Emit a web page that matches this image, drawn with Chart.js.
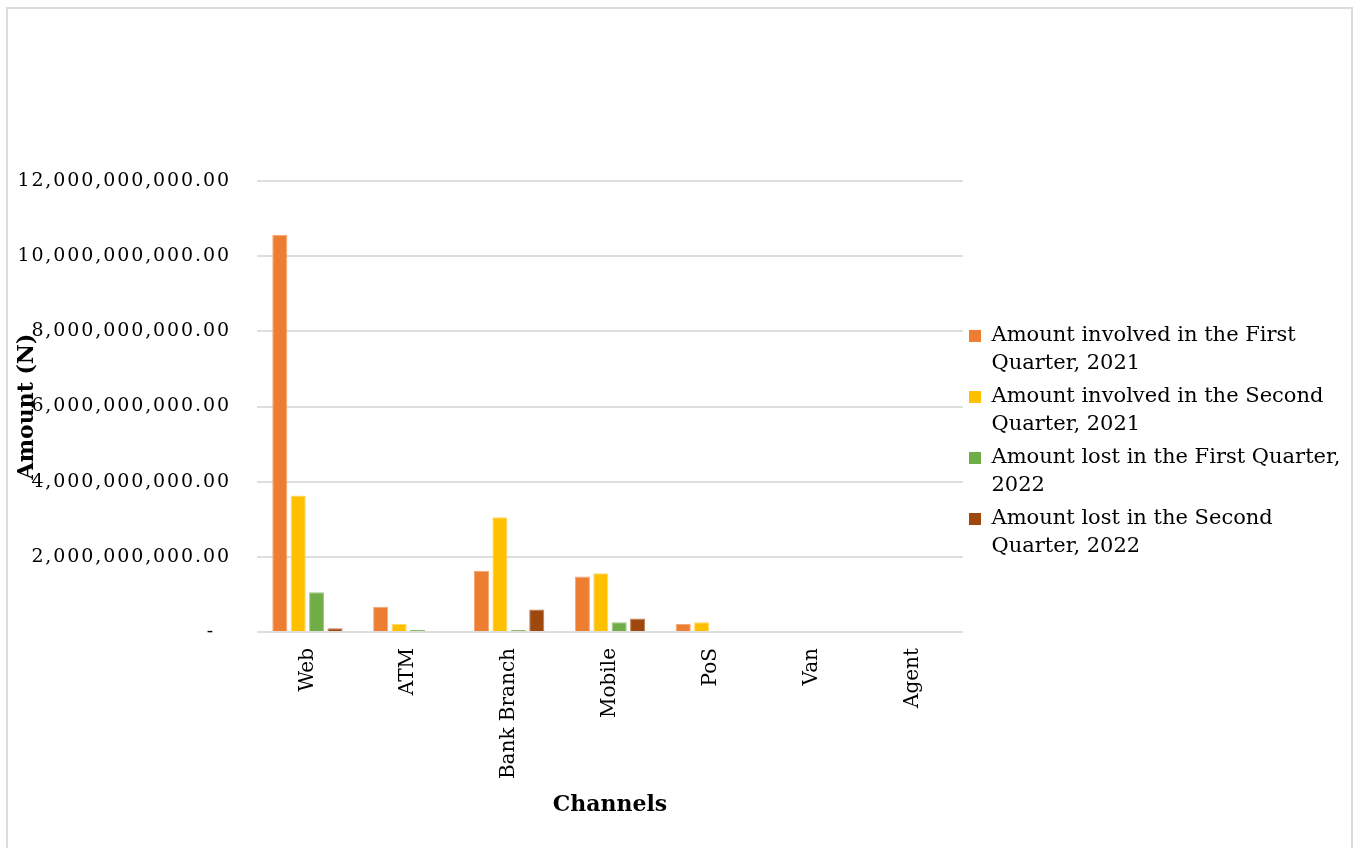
<!DOCTYPE html>
<html>
<head>
<meta charset="utf-8">
<title>Fraud amounts by channel</title>
<script src="https://cdn.jsdelivr.net/npm/chart.js@4.4.1/dist/chart.umd.min.js"></script>
<style>
  html, body { margin: 0; padding: 0; background: #ffffff; }
  #frame {
    position: absolute; left: 6px; top: 7px; width: 1347px; height: 860px;
    border: 2px solid #dcdcdc; box-sizing: border-box;
  }
  #wrap { position: absolute; left: 0; top: 0; width: 1360px; height: 848px; }
</style>
</head>
<body>
<div id="frame"></div>
<div id="wrap"><canvas id="chart"></canvas></div>
<script>
// Channels on the category axis
const channels = ["Web", "ATM", "Bank Branch", "Mobile", "PoS", "Van", "Agent"];

// Series names (line breaks are where the legend wraps)
const seriesNames = [
  "Amount involved in the First\nQuarter, 2021",
  "Amount involved in the Second\nQuarter, 2021",
  "Amount lost in the First Quarter,\n2022",
  "Amount lost in the Second\nQuarter, 2022"
];

// Amounts in Naira per channel
const involvedQ1_2021 = [10570000000, 670000000, 1630000000, 1480000000, 210000000, 0, 0];
const involvedQ2_2021 = [3630000000, 210000000, 3050000000, 1560000000, 260000000, 0, 0];
const lostQ1_2022     = [1060000000, 60000000, 60000000, 260000000, 0, 0, 0];
const lostQ2_2022     = [100000000, 0, 600000000, 360000000, 0, 0, 0];

const seriesColors = ["#ED7D31", "#FFC000", "#70AD47", "#9E480E"];
const seriesEdges  = ["#F4A676", "#FFD766", "#9CC982", "#BE7E55"];

// Axis range
const yMin = 0, yMax = 12000000000, yStep = 2000000000;

const serif = "'DejaVu Serif', 'Liberation Serif', serif";

const seriesValues = [involvedQ1_2021, involvedQ2_2021, lostQ1_2022, lostQ2_2022];

const datasets = seriesValues.map((vals, i) => ({
  label: seriesNames[i],
  data: vals,
  backgroundColor: seriesColors[i],
  borderColor: seriesEdges[i],
  borderWidth: 1,
  categoryPercentage: 0.73,
  barPercentage: 0.82
}));

function formatAmount(v) {
  if (v === 0) return "-  ";
  return v.toLocaleString("en-US", { minimumFractionDigits: 2, maximumFractionDigits: 2 });
}

// Fixed legend column width, and wider letter spacing on the value labels
const layoutTweaks = {
  id: "layoutTweaks",
  beforeLayout(chart) {
    const lg = chart.legend;
    if (lg && !lg._fixedWidth) {
      const fit = lg.fit.bind(lg);
      lg.fit = function () { fit(); this.width = 389; };
      lg._fixedWidth = true;
    }
  },
  afterLayout(chart) {
    const ys = chart.scales.y;
    if (ys && !ys._spaced) {
      const draw = ys.drawLabels.bind(ys);
      ys.drawLabels = function (area) {
        const ctx = chart.ctx;
        ctx.save();
        ctx.letterSpacing = "1.9px";
        draw(area);
        ctx.restore();
      };
      ys._spaced = true;
    }
  }
};

new Chart(document.getElementById("chart"), {
  type: "bar",
  data: { labels: channels, datasets },
  plugins: [layoutTweaks],
  options: {
    responsive: true,
    maintainAspectRatio: false,
    animation: false,
    layout: { padding: { left: 8, right: 8, top: 181, bottom: 0 } },
    plugins: {
      tooltip: { enabled: false },
      legend: {
        position: "right",
        align: "center",
        fullSize: false,
        title: {
          display: true,
          text: " ",
          font: { size: 10, lineHeight: 1 },
          padding: { top: 33, bottom: 33 }
        },
        labels: {
          color: "#000000",
          font: { family: serif, size: 21, lineHeight: 1.31 },
          boxWidth: 12,
          boxHeight: 12,
          padding: 6,
          generateLabels(chart) {
            const items = Chart.defaults.plugins.legend.labels.generateLabels(chart);
            items.forEach(it => {
              it.text = it.text.split("\n");
              it.strokeStyle = it.fillStyle;
              it.lineWidth = 0;
            });
            return items;
          }
        }
      }
    },
    scales: {
      x: {
        grid: { display: false },
        border: { display: false },
        ticks: {
          color: "#000000",
          font: { family: serif, size: 20 },
          minRotation: 90,
          maxRotation: 90,
          padding: 8,
          autoSkip: false
        },
        title: {
          display: true,
          text: "Channels",
          color: "#000000",
          font: { family: serif, size: 22, weight: "bold" },
          padding: { top: 4, bottom: 30 }
        },
        afterFit(scale) { scale.height = 216; }
      },
      y: {
        min: yMin,
        max: yMax,
        grid: { color: "#dedede", lineWidth: 2, drawTicks: false },
        border: { display: false },
        ticks: {
          stepSize: yStep,
          color: "#000000",
          font: { family: serif, size: 19 },
          padding: 26,
          callback: (v) => formatAmount(v)
        },
        title: {
          display: true,
          text: "Amount (N)",
          color: "#000000",
          font: { family: serif, size: 22, weight: "bold" },
          padding: { top: 6, bottom: 4 }
        },
        afterFit(scale) { scale.width = 249; }
      }
    }
  }
});
</script>
</body>
</html>
